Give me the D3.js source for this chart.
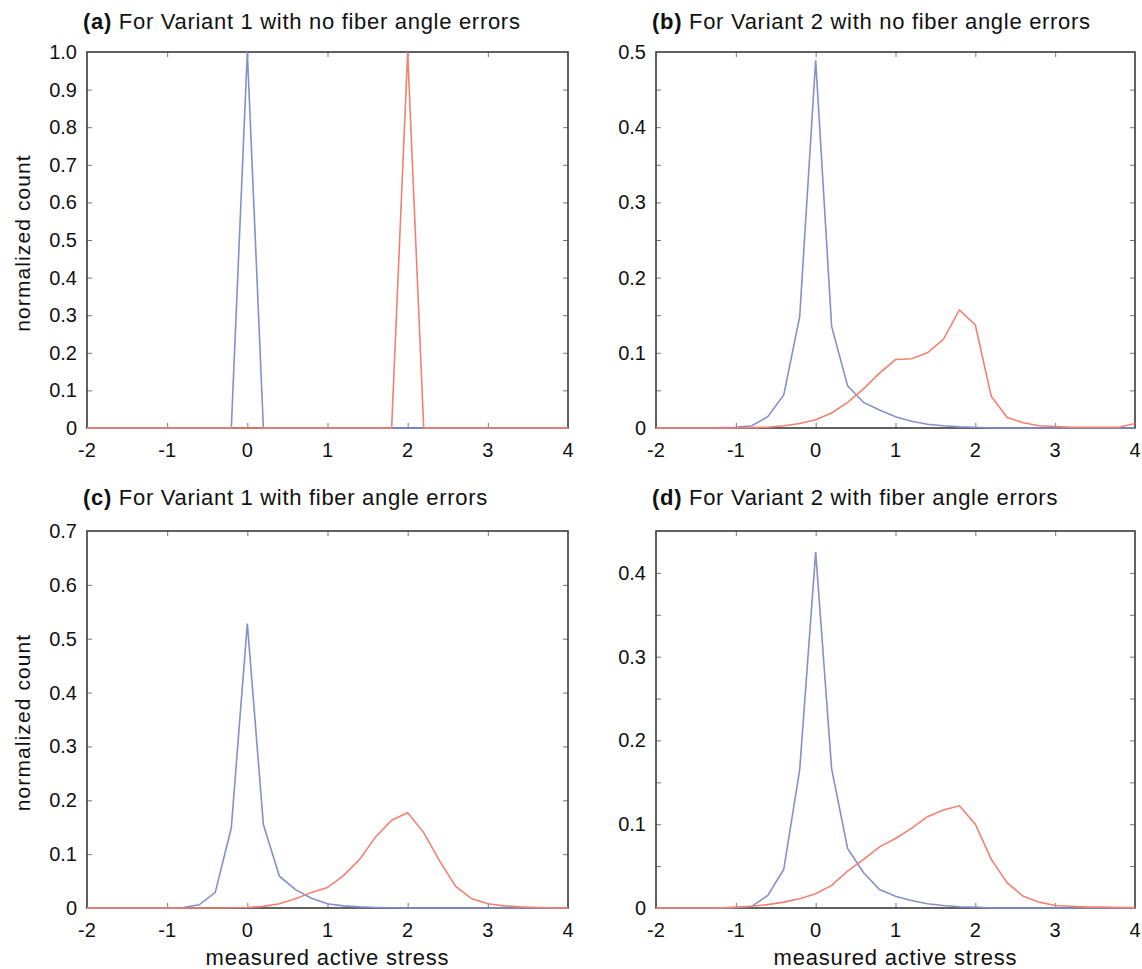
<!DOCTYPE html>
<html>
<head>
<meta charset="utf-8">
<script src="https://cdn.jsdelivr.net/npm/d3@7"></script>
<style>
  body { margin: 0; background: #fff; }
  text { font-family: "Liberation Sans", Arial, sans-serif; fill: #111; }
</style>
</head>
<body>
<div id="chart"></div>
<script>
// bin centres of the histograms (measured active stress)
const X_BINS = [-2.0, -1.8, -1.6, -1.4, -1.2, -1.0, -0.8, -0.6, -0.4, -0.2, 0.0,
                 0.2, 0.4, 0.6, 0.8, 1.0, 1.2, 1.4, 1.6, 1.8, 2.0,
                 2.2, 2.4, 2.6, 2.8, 3.0, 3.2, 3.4, 3.6, 3.8, 4.0];
const X_TICKS = [-2, -1, 0, 1, 2, 3, 4];

// (a) Variant 1, no fiber angle errors
const A_BLUE = [0,0,0,0,0,0,0,0,0,0,1, 0,0,0,0,0,0,0,0,0,0, 0,0,0,0,0,0,0,0,0,0];
const A_RED  = [0,0,0,0,0,0,0,0,0,0,0, 0,0,0,0,0,0,0,0,0,1, 0,0,0,0,0,0,0,0,0,0];
// (b) Variant 2, no fiber angle errors
const B_BLUE = [0,0,0,0,0.0005,0.001,0.003,0.015,0.044,0.148,0.489,
                0.135,0.056,0.034,0.024,0.015,0.009,0.005,0.003,0.0015,0.001,
                0,0,0,0,0,0,0,0,0,0];
const B_RED  = [0,0,0,0,0,0,0.0005,0.001,0.003,0.006,0.011,
                0.02,0.034,0.052,0.073,0.091,0.092,0.100,0.118,0.157,0.137,
                0.042,0.014,0.007,0.003,0.002,0.001,0.001,0.001,0.001,0.006];
// (c) Variant 1, with fiber angle errors
const C_BLUE = [0,0,0,0,0,0,0.001,0.006,0.029,0.149,0.528,
                0.155,0.059,0.034,0.018,0.008,0.004,0.002,0.001,0.0005,0,
                0,0,0,0,0,0,0,0,0,0];
const C_RED  = [0,0,0,0,0,0,0,0,0,0.0005,0.001,
                0.003,0.008,0.017,0.029,0.038,0.06,0.09,0.132,0.163,0.177,
                0.14,0.087,0.04,0.017,0.008,0.004,0.002,0.001,0.0005,0];
// (d) Variant 2, with fiber angle errors
const D_BLUE = [0,0,0,0,0,0.0005,0.002,0.015,0.046,0.165,0.425,
                0.166,0.071,0.042,0.022,0.014,0.009,0.005,0.003,0.0015,0.001,
                0,0,0,0,0,0,0,0,0,0];
const D_RED  = [0,0,0,0,0,0.001,0.002,0.004,0.007,0.011,0.017,
                0.027,0.044,0.058,0.073,0.083,0.095,0.109,0.117,0.122,0.1,
                0.058,0.03,0.014,0.007,0.003,0.002,0.001,0.001,0.0005,0.0005];

const A_YTICKS = [0,0.1,0.2,0.3,0.4,0.5,0.6,0.7,0.8,0.9,1.0];
const B_YTICKS = [0,0.1,0.2,0.3,0.4,0.5];
const B_YMINOR = [0.05,0.15,0.25,0.35,0.45];
const C_YTICKS = [0,0.1,0.2,0.3,0.4,0.5,0.6,0.7];
const D_YTICKS = [0,0.1,0.2,0.3,0.4];
const D_YMINOR = [0.05,0.15,0.25,0.35];

const BLUE = "#8191cd";
const RED = "#f2816f";
const AXIS = "#3a3a3a";

const width = 1142, height = 969;

const svg = d3.select("#chart").append("svg")
    .attr("width", width)
    .attr("height", height)
    .style("background", "#fff");

const panels = [
  {tag: "(a)", title: " For Variant 1 with no fiber angle errors", box: [87, 52, 568, 428], titleY: 29,
   ymax: 1.0, ticks: A_YTICKS, minor: [], blue: A_BLUE, red: A_RED, ylab: true, xlab: false},
  {tag: "(b)", title: " For Variant 2 with no fiber angle errors", box: [656, 52, 1135, 428], titleY: 29,
   ymax: 0.5, ticks: B_YTICKS, minor: B_YMINOR, blue: B_BLUE, red: B_RED, ylab: false, xlab: false},
  {tag: "(c)", title: " For Variant 1 with fiber angle errors", box: [87, 531, 568, 908], titleY: 505,
   ymax: 0.7, ticks: C_YTICKS, minor: [], blue: C_BLUE, red: C_RED, ylab: true, xlab: true},
  {tag: "(d)", title: " For Variant 2 with fiber angle errors", box: [656, 531, 1135, 908], titleY: 505,
   ymax: 0.45, ticks: D_YTICKS, minor: D_YMINOR, blue: D_BLUE, red: D_RED, ylab: false, xlab: true}
];

const fmt = v => v === 0 ? "0" : d3.format(".1f")(v);

function drawPanel(p) {
  const [x0, y0, x1, y1] = p.box;
  const x = d3.scaleLinear().domain([-2, 4]).range([x0, x1]);
  const y = d3.scaleLinear().domain([0, p.ymax]).range([y1, y0]);
  const g = svg.append("g");

  // ticks pointing inwards on all four sides
  const allY = p.ticks.concat(p.minor).filter(v => v < p.ymax - 1e-9 && v > 0);
  const xin = X_TICKS.filter(v => v > -2 && v < 4);
  g.append("g").attr("transform", `translate(0,${y1})`)
    .call(d3.axisBottom(x).tickValues(xin).tickSize(-5).tickFormat(""));
  g.append("g").attr("transform", `translate(0,${y0})`)
    .call(d3.axisTop(x).tickValues(xin).tickSize(-5).tickFormat(""));
  g.append("g").attr("transform", `translate(${x0},0)`)
    .call(d3.axisLeft(y).tickValues(allY).tickSize(-5).tickFormat(""));
  g.append("g").attr("transform", `translate(${x1},0)`)
    .call(d3.axisRight(y).tickValues(allY).tickSize(-5).tickFormat(""));
  g.selectAll(".domain").remove();
  g.selectAll(".tick line").attr("stroke", "#777").attr("stroke-width", 1);

  g.append("rect")
    .attr("x", x0).attr("y", y0)
    .attr("width", x1 - x0).attr("height", y1 - y0)
    .attr("fill", "none").attr("stroke", AXIS).attr("stroke-width", 1.6);

  // tick labels
  g.selectAll(".xl").data(X_TICKS).join("text")
    .attr("x", d => x(d)).attr("y", y1 + 29)
    .attr("text-anchor", "middle").attr("font-size", 20)
    .text(d => d);
  g.selectAll(".yl").data(p.ticks).join("text")
    .attr("x", x0 - 10).attr("y", d => y(d) + 7)
    .attr("text-anchor", "end").attr("font-size", 20)
    .text(fmt);

  const line = d3.line().x((d, i) => x(X_BINS[i])).y(d => y(d));
  g.append("path").datum(p.blue).attr("d", line)
    .attr("fill", "none").attr("stroke", BLUE).attr("stroke-width", 1.6);
  g.append("path").datum(p.red).attr("d", line)
    .attr("fill", "none").attr("stroke", RED).attr("stroke-width", 1.6);

  const t = g.append("text").attr("x", x0 - 4).attr("y", p.titleY)
    .attr("font-size", 22).attr("letter-spacing", 0.7);
  t.append("tspan").attr("font-weight", "bold").text(p.tag);
  t.append("tspan").text(p.title);

  if (p.ylab) {
    g.append("text")
      .attr("transform", `translate(23,${(y0 + y1) / 2 + 3}) rotate(-90)`)
      .attr("text-anchor", "middle").attr("dy", "0.35em")
      .attr("font-size", 21).attr("letter-spacing", 1.1)
      .text("normalized count");
  }
  if (p.xlab) {
    g.append("text")
      .attr("x", (x0 + x1) / 2).attr("y", y1 + 57)
      .attr("text-anchor", "middle").attr("font-size", 22).attr("letter-spacing", 0.8)
      .text("measured active stress");
  }
}

panels.forEach(drawPanel);
</script>
</body>
</html>
